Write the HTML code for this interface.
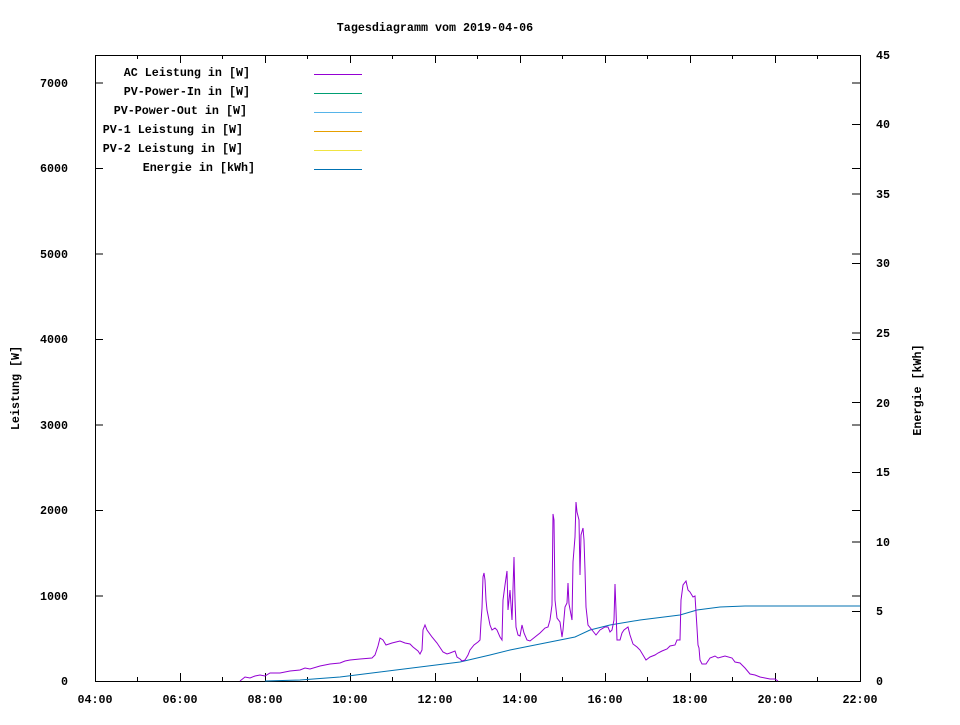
<!DOCTYPE html>
<html><head><meta charset="utf-8"><style>
body{margin:0;background:#fff}
text{font-family:"Liberation Mono",monospace;font-weight:bold;font-size:11.7px;fill:#000}
</style></head><body>
<svg width="960" height="720" xmlns="http://www.w3.org/2000/svg">
<rect width="960" height="720" fill="#fff"/>
<text x="435" y="31" text-anchor="middle">Tagesdiagramm vom 2019-04-06</text>
<g stroke="#000" stroke-width="1" fill="none" shape-rendering="crispEdges">
<rect x="95.5" y="55.5" width="765" height="626"/>
<path d="M95,681.5h8M95,596h8M95,510.5h8M95,425h8M95,339.5h8M95,254h8M95,168.5h8M95,83h8
M860,596h-8M860,510.5h-8M860,425h-8M860,339.5h-8M860,254h-8M860,168.5h-8M860,83h-8
M860,611.4h-8M860,541.9h-8M860,472.3h-8M860,402.7h-8M860,333.1h-8M860,263.6h-8M860,194h-8M860,124.4h-8"/>
<path d="M180.5,681v-8M265.5,681v-8M350.5,681v-8M435.5,681v-8M520.5,681v-8M605.5,681v-8M690.5,681v-8M775.5,681v-8
M180.5,55v8M265.5,55v8M350.5,55v8M435.5,55v8M520.5,55v8M605.5,55v8M690.5,55v8M775.5,55v8
M137.5,681v-4M222.5,681v-4M307.5,681v-4M392.5,681v-4M477.5,681v-4M562.5,681v-4M647.5,681v-4M732.5,681v-4M817.5,681v-4
M137.5,55v4M222.5,55v4M307.5,55v4M392.5,55v4M477.5,55v4M562.5,55v4M647.5,55v4M732.5,55v4M817.5,55v4"/>
</g>
<g text-anchor="end">
<text x="68" y="685">0</text><text x="68" y="600">1000</text><text x="68" y="514">2000</text><text x="68" y="429">3000</text><text x="68" y="343">4000</text><text x="68" y="258">5000</text><text x="68" y="172">6000</text><text x="68" y="87">7000</text>
</g>
<g>
<text x="876" y="685">0</text><text x="876" y="615">5</text><text x="876" y="546">10</text><text x="876" y="476">15</text><text x="876" y="407">20</text><text x="876" y="337">25</text><text x="876" y="267">30</text><text x="876" y="198">35</text><text x="876" y="128">40</text><text x="876" y="59">45</text>
</g>
<g text-anchor="middle">
<text x="95" y="703">04:00</text><text x="180" y="703">06:00</text><text x="265" y="703">08:00</text><text x="350" y="703">10:00</text><text x="435" y="703">12:00</text><text x="520" y="703">14:00</text><text x="605" y="703">16:00</text><text x="690" y="703">18:00</text><text x="775" y="703">20:00</text><text x="860" y="703">22:00</text>
</g>
<text transform="translate(19,388) rotate(-90)" text-anchor="middle">Leistung [W]</text>
<text transform="translate(921,390) rotate(-90)" text-anchor="middle">Energie [kWh]</text>
<g text-anchor="end">
<text x="250" y="76">AC Leistung in [W]</text>
<text x="250" y="95">PV-Power-In in [W]</text>
<text x="247" y="114">PV-Power-Out in [W]</text>
<text x="243" y="133">PV-1 Leistung in [W]</text>
<text x="243" y="152">PV-2 Leistung in [W]</text>
<text x="255" y="171">Energie in [kWh]</text>
</g>
<g stroke-width="1" shape-rendering="crispEdges">
<path d="M314,74.5h48" stroke="#9400d3"/>
<path d="M314,93.5h48" stroke="#009e73"/>
<path d="M314,112.5h48" stroke="#56b4e9"/>
<path d="M314,131.5h48" stroke="#e69f00"/>
<path d="M314,150.5h48" stroke="#f0e442"/>
<path d="M314,169.5h48" stroke="#0072b2"/>
</g>
<polyline fill="none" stroke="#0072b2" stroke-width="1" points="265,681 300,680 340,677 380,672 420,667 460,662 490,655 510,650 540,644 575,637 590,630 610,625 640,620 680,615 697,610 720,607 745,606 860,606"/>
<polyline fill="none" stroke="#9400d3" stroke-width="1" points="240,681 245,677 250,678 255,676 260,675 265,676 270,673 280,673 290,671 300,670 305,668 310,669 320,666 330,664 340,663 345,661 350,660 360,659 372,658 375,655 378,646 380,638 383,640 386,645 392,643 396,642 400,641 405,643 410,644 413,647 418,651 420,654 422,650 423,630 425,625 427,630 432,637 437,643 443,652 447,654 450,653 455,651 457,657 460,659 462,661 465,660 468,655 470,650 474,645 478,642 480,640 481,622 482,608 483,577 484,573 485,580 486,600 487,610 490,625 492,630 495,628 497,630 500,637 502,640 503,600 505,585 507,571 508,610 510,590 512,620 514,557 515,600 516,627 518,635 520,636 522,625 524,633 527,640 530,641 535,637 540,633 545,628 548,627 550,620 552,605 553,514 554,520 555,600 557,618 560,622 562,637 563,630 565,607 567,603 568,583 569,604 572,620 573,562 575,537 576,502 577,512 579,520 580,575 581,535 583,528 584,540 585,570 586,607 588,625 592,630 596,635 600,630 605,627 608,627 610,632 612,630 614,620 615,584 616,610 617,640 620,640 622,633 624,630 628,627 630,635 633,644 637,647 640,650 643,655 646,660 650,657 655,655 658,653 662,651 667,649 670,646 675,645 677,640 680,640 681,600 683,585 686,581 688,590 690,592 693,597 695,596 697,628 698,645 699,648 700,660 702,664 706,664 710,658 715,656 718,658 725,656 732,658 735,662 740,663 742,665 745,668 750,674 755,675 760,677 765,678 770,679 775,679 778,681"/>
</svg>
</body></html>
